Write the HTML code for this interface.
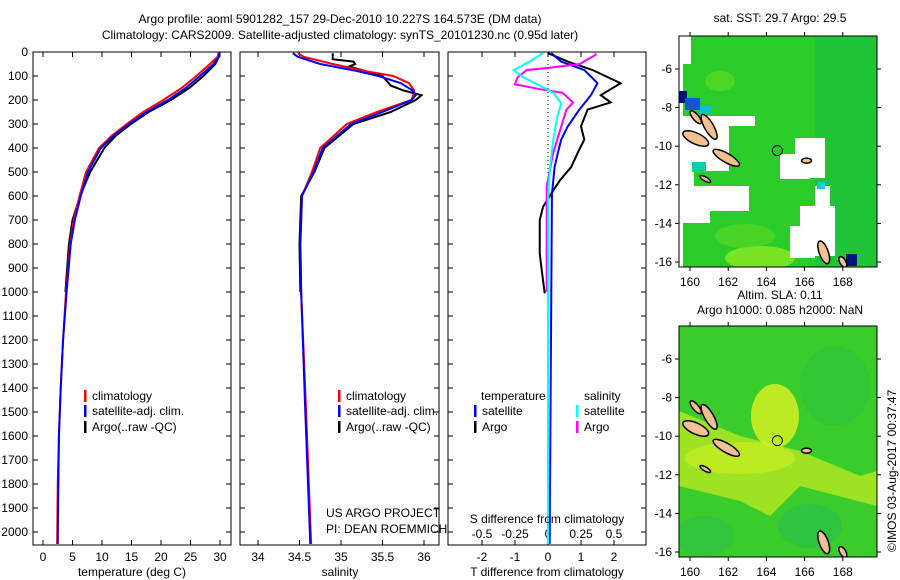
<!DOCTYPE html>
<html><head><meta charset="utf-8">
<style>
body{margin:0;background:#fff;}
svg{display:block;font-family:"Liberation Sans",sans-serif;}
text{font-size:12px;fill:#000;}
</style></head>
<body>
<svg id="c" width="900" height="580" xmlns="http://www.w3.org/2000/svg">
<text x="340" y="23" text-anchor="middle">Argo profile: aoml 5901282_157 29-Dec-2010 10.227S 164.573E (DM data)</text>
<text x="340" y="39" text-anchor="middle">Climatology: CARS2009. Satellite-adjusted climatology: synTS_20101230.nc (0.95d later)</text>
<g id="maps"></g>
<g id="plots"></g>
</svg>
<script>
// ---- data ----
const tClimDepth=[0,20,50,100,150,200,250,300,350,400,500,600,700,800,1000,1200,1400,1600,1800,2050];
const tClimVal=[29.8,29.6,28.3,26,23.5,20.4,17,14.2,11.6,9.5,7.3,6.2,5.2,4.6,3.9,3.4,3.0,2.7,2.5,2.4];
const tSatVal=[29.9,29.8,28.9,26.6,24.2,21.2,17.6,14.6,11.9,9.8,7.6,6.4,5.4,4.7,4.0,3.4,3.0,2.7,2.6,2.5];
const tArgoDepth=[0,20,50,100,150,200,250,300,350,400,500,600,700,800,1000];
const tArgoVal=[29.9,29.8,29.2,27.2,24.8,21.7,17.9,14.9,12.3,10.4,8.0,6.3,5.0,4.4,3.8];
const sClimDepth=[5,20,50,80,100,130,160,180,200,250,300,400,500,600,800,1000,1500,2050];
const sClimVal=[34.48,34.55,34.9,35.3,35.63,35.82,35.88,35.87,35.85,35.43,35.07,34.75,34.65,34.53,34.51,34.52,34.58,34.64];
const sSatVal=[34.42,34.48,34.75,35.2,35.45,35.72,35.86,35.9,35.85,35.5,35.12,34.78,34.67,34.53,34.51,34.52,34.57,34.63];
const sArgoDepth=[5,30,40,50,60,100,140,160,180,200,250,300,400,500,600,800,1000];
const sArgoVal=[34.9,34.9,35.15,35.17,35.1,35.5,35.6,35.75,35.97,35.9,35.6,35.15,34.8,34.68,34.52,34.5,34.51];
const dTDepth=[5,40,75,130,180,210,240,310,365,420,480,535,590,645,700,840,920,1005];
const dTArgo=[0,0.6,1.35,2.2,1.6,1.9,1.2,1.0,1.1,0.9,0.7,0.36,0.1,-0.15,-0.25,-0.25,-0.18,-0.1];
const dTSatDepth=[5,40,75,130,180,240,310,365,420,480,590,1000,2050];
const dTSat=[0.1,0.4,1.1,1.5,1.3,0.95,0.6,0.4,0.3,0.2,0.12,0.1,0.05];
const dSSatDepth=[5,40,75,105,135,170,215,270,365,480,600,2050];
const dSSat=[-0.04,-0.14,-0.26,-0.19,-0.08,0.04,0.1,0.07,0.04,0.015,0,0];
const dSArgoDepth=[5,12,50,65,75,105,135,155,170,210,240,310,420,560,1000];
const dSArgo=[0.36,0.36,0.24,0.02,-0.16,-0.23,-0.25,-0.06,0.11,0.19,0.14,0.1,0.04,-0.01,-0.01];
const depthTicks=[0,100,200,300,400,500,600,700,800,900,1000,1100,1200,1300,1400,1500,1600,1700,1800,1900,2000];
const tTicks=[0,5,10,15,20,25,30];
const sTicks=[34,34.5,35,35.5,36];
const dtTicks=[-2,-1,0,1,2];
const dsTicks=[-0.5,-0.25,0,0.25,0.5];
const dsTickLabels=["-0.5","-0.25","0","0.25","0.5"];
const lonTicks=[160,162,164,166,168];
const latTicks=[-6,-8,-10,-12,-14,-16];

const NS="http://www.w3.org/2000/svg";
function mk(tag,attrs,parent){const e=document.createElementNS(NS,tag);for(const k in attrs)e.setAttribute(k,attrs[k]);parent.appendChild(e);return e;}
const plots=document.getElementById('plots');
const yD=d=>52+d*0.24;
const xT=v=>43+v*5.9;
const xS=v=>258+(v-34)*83;
const xDT=v=>548+v*33;
const xDS=v=>548+v*132;

function frame(x0,x1,name){
  const r=mk('rect',{x:x0,y:52,width:x1-x0,height:493,fill:'none',stroke:'#000','stroke-width':1},plots);
  
  
  depthTicks.forEach(d=>{
    mk('line',{x1:x0,x2:x0+5,y1:yD(d),y2:yD(d),stroke:'#000'},plots);
    mk('line',{x1:x1-5,x2:x1,y1:yD(d),y2:yD(d),stroke:'#000'},plots);
  });
}
function xticks(ticks,fx,labels,y0,name){
  ticks.forEach((t,i)=>{
    const x=fx(t);
    mk('line',{x1:x,x2:x,y1:y0,y2:y0-5,stroke:'#000'},plots);
    mk('line',{x1:x,x2:x,y1:52,y2:57,stroke:'#000'},plots);
    const tx=mk('text',{x:x,y:y0+16,'text-anchor':'middle'},plots);
    tx.textContent=labels?labels[i]:String(t);
    
    
  });
}
function line(depths,vals,fx,fy,color,name,w){
  const p=mk('polyline',{points:depths.map((d,i)=>fx(vals[i])+','+fy(d)).join(' '),fill:'none',stroke:color,'stroke-width':w||2},plots);
  
  
}
function txt(x,y,s,name,anchor){const t=mk('text',{x:x,y:y,'text-anchor':anchor||'start'},plots);t.textContent=s;return t;}
function leg(x,y,color,s,name){
  const r=mk('rect',{x:x,y:y-10,width:2.5,height:12,fill:color},plots);
  
  
  txt(x+8,y,s,name);
}

depthTicks.forEach(d=>{txt(28,yD(d)+4,String(d),'depth-tick-label','end');});

frame(33,231,'temperature-panel');
xticks(tTicks,xT,null,545,'temperature');
line(tArgoDepth,tArgoVal,xT,yD,'#000','temperature-argo-line');
line(tClimDepth,tClimVal,xT,yD,'#f00','temperature-climatology-line');
line(tClimDepth,tSatVal,xT,yD,'#00f','temperature-satellite-line');
txt(132,576,'temperature (deg C)','temperature-axis-title','middle');
leg(84,400,'#f00','climatology','legend-climatology');
leg(84,415,'#00f','satellite-adj. clim.','legend-satellite');
leg(84,431,'#000','Argo(..raw -QC)','legend-argo');

frame(240,439,'salinity-panel');
xticks(sTicks,xS,null,545,'salinity');
line(sArgoDepth,sArgoVal,xS,yD,'#000','salinity-argo-line');
line(sClimDepth,sClimVal,xS,yD,'#f00','salinity-climatology-line');
line(sClimDepth,sSatVal,xS,yD,'#00f','salinity-satellite-line');
txt(340,576,'salinity','salinity-axis-title','middle');
leg(338,400,'#f00','climatology','legend2-climatology');
leg(338,415,'#00f','satellite-adj. clim.','legend2-satellite');
leg(338,431,'#000','Argo(..raw -QC)','legend2-argo');
txt(326,517,'US ARGO PROJECT','project-credit');
txt(326,533,'PI: DEAN ROEMMICH','pi-credit');

frame(448,646,'difference-panel');
dtTicks.forEach(t=>{const x=xDT(t);mk('line',{x1:x,x2:x,y1:545,y2:540,stroke:'#000'},plots);txt(x,561,String(t),'t-diff-tick-label','middle');});
dsTicks.forEach((t,i)=>{const x=xDS(t);mk('line',{x1:x,x2:x,y1:52,y2:57,stroke:'#000'},plots);txt(x,538,dsTickLabels[i],'s-diff-tick-label','middle');});
mk('line',{x1:548,x2:548,y1:52,y2:545,stroke:'#000','stroke-dasharray':'1,3'},plots);
line(dTDepth,dTArgo,xDT,yD,'#000','t-diff-argo-line');
line(dTSatDepth,dTSat,xDT,yD,'#00f','t-diff-satellite-line');
line(dSArgoDepth,dSArgo,xDS,yD,'#f0f','s-diff-argo-line');
line(dSSatDepth,dSSat,xDS,yD,'#0ff','s-diff-satellite-line');
txt(547,523,'S difference from climatology','s-diff-axis-title','middle');
txt(547,576,'T difference from climatology','t-diff-axis-title','middle');
txt(481,400,'temperature','legend3-temperature-header');
txt(584,400,'salinity','legend3-salinity-header');
leg(474,415,'#00f','satellite','legend3-t-satellite');
leg(474,431,'#000','Argo','legend3-t-argo');
leg(576,415,'#0ff','satellite','legend3-s-satellite');
leg(576,431,'#f0f','Argo','legend3-s-argo');

// ---- maps ----
const maps=document.getElementById('maps');
const xL=lon=>690+(lon-160)*19.1;
function drawMap(top,title1,title2,kind){
  const yL=lat=>top+33+(-6-lat)*19.3;
  const g=mk('g',{},maps);
  
  
  const cid='clip'+kind;
  const cp=mk('clipPath',{id:cid},g);mk('rect',{x:679,y:top,width:198,height:231},cp);
  const inner=mk('g',{'clip-path':'url(#'+cid+')'},g);
  if(kind==='sst'){
    mk('rect',{x:679,y:top,width:198,height:231,fill:'#2acc2a'},inner);
    mk('rect',{x:815,y:top,width:62,height:231,fill:'#14bb44',opacity:0.5},inner);
    mk('ellipse',{cx:760,cy:top+222,rx:35,ry:12,fill:'#99ee22',opacity:0.7},inner);
    mk('ellipse',{cx:745,cy:top+200,rx:30,ry:12,fill:'#66dd22',opacity:0.5},inner);
    mk('ellipse',{cx:720,cy:top+45,rx:15,ry:10,fill:'#66dd22',opacity:0.6},inner);
    [[679,top,12,28],[679,top+80,50,55],[679,top+130,15,40],[725,top+80,30,10],[679,top+150,70,25],[680,top+165,30,22],[795,top+102,30,40],[780,top+118,30,25],[815,top+150,15,70],[800,top+170,35,50],[790,top+190,25,32]].forEach(r=>mk('rect',{x:r[0],y:r[1],width:r[2],height:r[3],fill:'#fff'},inner));
    mk('rect',{x:679,y:top,width:4,height:231,fill:'#fff'},inner);
    mk('rect',{x:679,y:top+55,width:8,height:12,fill:'#001177'},inner);
    mk('rect',{x:685,y:top+62,width:15,height:12,fill:'#1155dd'},inner);
    mk('rect',{x:700,y:top+70,width:12,height:8,fill:'#11bbdd'},inner);
    mk('rect',{x:692,y:top+126,width:14,height:10,fill:'#11ccaa'},inner);
    mk('rect',{x:817,y:top+146,width:8,height:7,fill:'#11ccdd'},inner);
    mk('rect',{x:846,y:top+218,width:11,height:12,fill:'#001177'},inner);
  } else {
    mk('rect',{x:679,y:top,width:198,height:231,fill:'#3acc2a'},inner);
    mk('polygon',{points:'679,'+(top+85)+' 740,'+(top+110)+' 800,'+(top+125)+' 860,'+(top+150)+' 877,'+(top+145)+' 877,'+(top+180)+' 800,'+(top+160)+' 770,'+(top+190)+' 740,'+(top+175)+' 679,'+(top+160),fill:'#b0e622',opacity:0.85},inner);
    mk('ellipse',{cx:775,cy:top+90,rx:24,ry:32,fill:'#ccee22',opacity:0.9},inner);
    mk('ellipse',{cx:740,cy:top+132,rx:55,ry:16,fill:'#c4ec22',opacity:0.8},inner);
    mk('ellipse',{cx:810,cy:top+200,rx:32,ry:22,fill:'#22bb55',opacity:0.5},inner);
    mk('ellipse',{cx:705,cy:top+210,rx:30,ry:20,fill:'#22bb55',opacity:0.4},inner);
    mk('ellipse',{cx:835,cy:top+60,rx:35,ry:40,fill:'#22bb44',opacity:0.35},inner);
  }
  [[160.3,-9.6,14,5.5,25],[161.0,-9.0,14,4.5,60],[161.9,-10.6,15,4.5,30],[160.3,-8.5,8,3,50],[167.0,-15.5,12,4.5,70],[166.1,-10.75,5,2.5,0],[168.0,-16.0,6,3,60],[160.8,-11.7,6,2,30]].forEach(i=>{
    const e=mk('ellipse',{cx:xL(i[0]),cy:yL(i[1]),rx:i[2],ry:i[3],fill:'#f4c090',stroke:'#000','stroke-width':1.5,transform:'rotate('+i[4]+' '+xL(i[0])+' '+yL(i[1])+')'},inner);
    
    
  });
  const c=mk('circle',{cx:xL(164.573),cy:yL(-10.227),r:5,fill:'none',stroke:'#000'},inner);
  
  
  mk('rect',{x:679,y:top,width:198,height:231,fill:'none',stroke:'#000'},g);
  lonTicks.forEach(l=>{const x=xL(l);mk('line',{x1:x,x2:x,y1:top+231,y2:top+235,stroke:'#000'},g);mk('line',{x1:x,x2:x,y1:top,y2:top-4,stroke:'#000'},g);
    const t=mk('text',{x:x,y:top+250,'text-anchor':'middle'},g);t.textContent=String(l);});
  latTicks.forEach(l=>{const y=yL(l);mk('line',{x1:675,x2:679,y1:y,y2:y,stroke:'#000'},g);mk('line',{x1:877,x2:881,y1:y,y2:y,stroke:'#000'},g);
    const t=mk('text',{x:672,y:y+4,'text-anchor':'end'},g);t.textContent=String(l);});
  const t1=mk('text',{x:780,y:top-(title2?27:14),'text-anchor':'middle'},g);t1.textContent=title1;
  if(title2){const t2=mk('text',{x:780,y:top-12,'text-anchor':'middle'},g);t2.textContent=title2;}
}
drawMap(36,'sat. SST: 29.7 Argo: 29.5',null,'sst');
drawMap(326,'Altim. SLA: 0.11','Argo h1000: 0.085 h2000: NaN','sla');
const cr=mk('text',{x:0,y:0,transform:'translate(896,552) rotate(-90)'},maps);
cr.textContent='©IMOS 03-Aug-2017 00:37:47';


</script>
</body></html>
